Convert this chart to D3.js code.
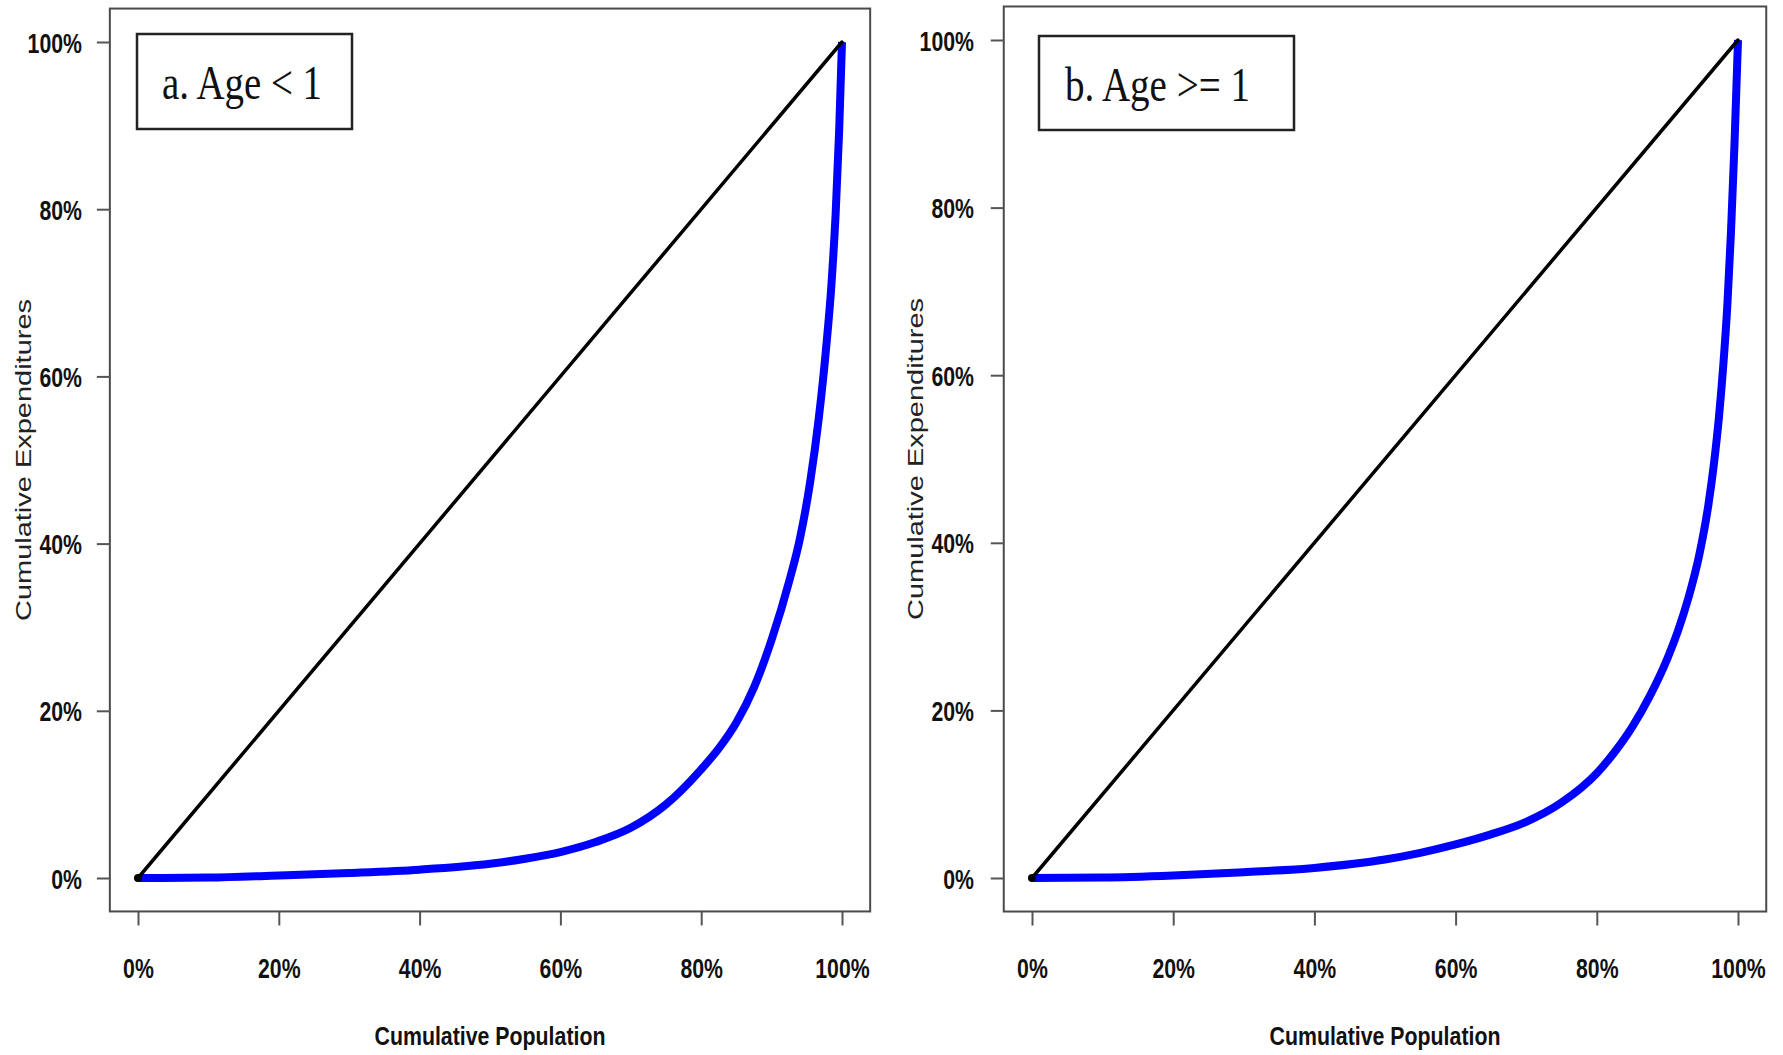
<!DOCTYPE html>
<html>
<head>
<meta charset="utf-8">
<script src="https://cdnjs.cloudflare.com/ajax/libs/d3/7.8.5/d3.min.js"></script>
<style>
  html, body { margin: 0; padding: 0; background: #ffffff; }
  svg { display: block; }
</style>
</head>
<body>
<svg id="chart" width="1783" height="1055"></svg>
<script>
// ---------- data ----------
const tickValues = [0, 0.2, 0.4, 0.6, 0.8, 1.0];
const tickLabels = ["0%", "20%", "40%", "60%", "80%", "100%"];

const panelTitles = ["a. Age < 1", "b. Age >= 1"];
const xTitle = "Cumulative Population";
const yTitle = "Cumulative Expenditures";

// equality line
const equalityPop = [0, 1];
const equalityExp = [0, 1];

// Lorenz curve, panel a (Age < 1)
const popA = [0, 0.10, 0.20, 0.30, 0.40, 0.50, 0.55, 0.60, 0.65, 0.70, 0.75, 0.80, 0.825, 0.85, 0.875, 0.90, 0.925, 0.94, 0.955, 0.967, 0.977, 0.985, 0.991, 0.996, 1.0];
const expA = [0, 0.0005, 0.003, 0.006, 0.010, 0.017, 0.023, 0.031, 0.043, 0.060, 0.088, 0.130, 0.155, 0.186, 0.228, 0.285, 0.355, 0.405, 0.475, 0.550, 0.630, 0.710, 0.795, 0.895, 1.0];

// Lorenz curve, panel b (Age >= 1)
const popB = [0, 0.10, 0.20, 0.30, 0.40, 0.50, 0.55, 0.60, 0.65, 0.70, 0.75, 0.80, 0.825, 0.85, 0.875, 0.90, 0.915, 0.93, 0.945, 0.958, 0.966, 0.973, 0.979, 0.985, 0.990, 0.995, 1.0];
const expB = [0, 0.0005, 0.003, 0.007, 0.012, 0.022, 0.030, 0.040, 0.052, 0.067, 0.090, 0.125, 0.150, 0.180, 0.217, 0.262, 0.295, 0.335, 0.385, 0.445, 0.495, 0.550, 0.610, 0.685, 0.770, 0.875, 1.0];

// ---------- layout ----------
const panels = [
  { title: panelTitles[0], pop: popA, exp: expA,
    xr: [138, 842], yr: [878, 42],
    box: { x: 137, y: 34, w: 215, h: 95, tx: 162, ty: 99, tl: 160 },
    yTitleX: 23, labRight: 82 },
  { title: panelTitles[1], pop: popB, exp: expB,
    xr: [1032, 1738], yr: [878, 40],
    box: { x: 1039, y: 36, w: 255, h: 94, tx: 1065, ty: 101, tl: 185 },
    yTitleX: 915, labRight: 974 }
];

const svg = d3.select("#chart");
const SANS = "'Liberation Sans', Arial, Helvetica, sans-serif";
const SERIF = "'Liberation Serif', 'Times New Roman', Times, serif";
const condense = 0.76;

panels.forEach(p => {
  const x = d3.scaleLinear().domain([0, 1]).range(p.xr);
  const y = d3.scaleLinear().domain([0, 1]).range(p.yr);
  const g = svg.append("g");

  const bx0 = x(-0.04), bx1 = x(1.04), by0 = y(1.04), by1 = y(-0.04);

  // plot frame
  g.append("rect")
    .attr("x", bx0).attr("y", by0)
    .attr("width", bx1 - bx0).attr("height", by1 - by0)
    .attr("fill", "none").attr("stroke", "#4a4a4a").attr("stroke-width", 2);

  // y axis
  const yAxis = d3.axisLeft(y).tickValues(tickValues)
    .tickFormat((d, i) => tickLabels[i]).tickSize(13).tickSizeOuter(0);
  const ya = g.append("g").attr("transform", `translate(${bx0},0)`).call(yAxis);
  ya.select(".domain").remove();
  ya.selectAll(".tick line").attr("stroke", "#555").attr("stroke-width", 2);
  ya.selectAll(".tick text")
    .attr("x", (p.labRight - bx0) / condense)
    .attr("dy", null)
    .attr("dominant-baseline", "central")
    .attr("transform", `scale(${condense},1)`)
    .attr("font-family", SANS).attr("font-size", 28).attr("font-weight", "bold")
    .attr("fill", "#111").attr("text-anchor", "end");

  // x axis
  const xAxis = d3.axisBottom(x).tickValues(tickValues)
    .tickFormat((d, i) => tickLabels[i]).tickSize(14).tickSizeOuter(0);
  const xa = g.append("g").attr("transform", `translate(0,${by1})`).call(xAxis);
  xa.select(".domain").remove();
  xa.selectAll(".tick line").attr("stroke", "#555").attr("stroke-width", 2);
  xa.selectAll(".tick text")
    .attr("y", 56).attr("dy", null)
    .attr("dominant-baseline", "central")
    .attr("transform", `scale(${condense},1)`)
    .attr("font-family", SANS).attr("font-size", 28).attr("font-weight", "bold")
    .attr("fill", "#111").attr("text-anchor", "middle");

  // axis titles
  const cx = (p.xr[0] + p.xr[1]) / 2;
  g.append("text")
    .attr("transform", `translate(${cx},1036) scale(0.82,1)`)
    .attr("text-anchor", "middle").attr("dominant-baseline", "central")
    .attr("font-family", SANS).attr("font-size", 26).attr("font-weight", "bold")
    .attr("fill", "#111")
    .text(xTitle);

  const cy = (p.yr[0] + p.yr[1]) / 2;
  g.append("text")
    .attr("transform", `translate(${p.yTitleX},${cy}) rotate(-90) scale(1,0.82)`)
    .attr("text-anchor", "middle").attr("dominant-baseline", "central")
    .attr("font-family", SANS).attr("font-size", 28)
    .attr("textLength", 322).attr("lengthAdjust", "spacingAndGlyphs")
    .attr("fill", "#222")
    .text(yTitle);

  // Lorenz curve
  const line = d3.line().x(d => x(d[0])).y(d => y(d[1])).curve(d3.curveMonotoneX);
  g.append("path")
    .datum(p.pop.map((v, i) => [v, p.exp[i]]))
    .attr("d", line)
    .attr("fill", "none").attr("stroke", "#0000ff")
    .attr("stroke-width", 8).attr("stroke-linejoin", "round").attr("stroke-linecap", "butt");

  // equality line
  const eq = d3.line().x(d => x(d[0])).y(d => y(d[1]));
  g.append("path")
    .datum(equalityPop.map((v, i) => [v, equalityExp[i]]))
    .attr("d", eq)
    .attr("fill", "none").attr("stroke", "#000")
    .attr("stroke-width", 3.5).attr("stroke-linecap", "round");
  g.append("circle")
    .attr("cx", x(equalityPop[0])).attr("cy", y(equalityExp[0]))
    .attr("r", 4).attr("fill", "#000");

  // panel label box
  g.append("rect")
    .attr("x", p.box.x).attr("y", p.box.y)
    .attr("width", p.box.w).attr("height", p.box.h)
    .attr("fill", "#fff").attr("stroke", "#222").attr("stroke-width", 2.5);
  g.append("text")
    .attr("x", p.box.tx).attr("y", p.box.ty)
    .attr("font-family", SERIF).attr("font-size", 48)
    .attr("textLength", p.box.tl).attr("lengthAdjust", "spacingAndGlyphs")
    .attr("fill", "#111")
    .text(p.title);
});
</script>
</body>
</html>
